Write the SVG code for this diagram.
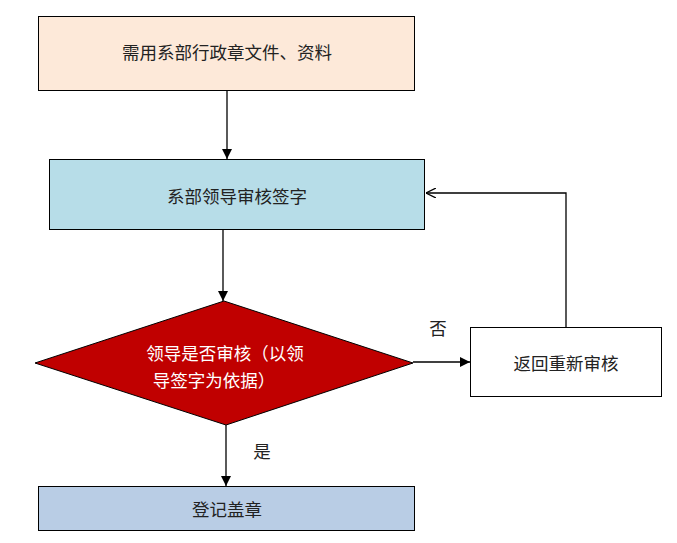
<svg xmlns="http://www.w3.org/2000/svg" width="677" height="543" viewBox="0 0 677 543">
<style>
text{font-family:"Noto Sans CJK SC","Noto Sans",sans-serif;font-size:17.5px;text-anchor:middle;dominant-baseline:central;fill:#222}
.box{stroke:#000;stroke-width:1}
.ln{fill:none;stroke:#000;stroke-width:1.3}
.w{fill:#fff}
</style>
<defs>
<marker id="fa" viewBox="0 0 10 10" refX="10" refY="5" markerWidth="10" markerHeight="10" markerUnits="userSpaceOnUse" orient="auto">
<path d="M0,0 L10,5 L0,10 Z" fill="#000"/>
</marker>
<marker id="oa" viewBox="0 0 10 10" refX="10" refY="5" markerWidth="10" markerHeight="10" markerUnits="userSpaceOnUse" orient="auto">
<path d="M0,0 L10,5 L0,10" fill="none" stroke="#000" stroke-width="1.3"/>
</marker>
</defs>
<rect width="677" height="543" fill="#fff"/>
<g id="connectors">
<line class="ln" x1="227" y1="90" x2="227" y2="159" marker-end="url(#fa)"/>
<line class="ln" x1="223" y1="229" x2="223" y2="301" marker-end="url(#fa)"/>
<line class="ln" x1="413" y1="362" x2="470" y2="362" marker-end="url(#fa)"/>
<polyline class="ln" points="566,330 566,193 426,193" marker-end="url(#oa)"/>
<line class="ln" x1="226" y1="425" x2="226" y2="486" marker-end="url(#fa)"/>
<text x="438" y="327">否</text>
<text x="262" y="450">是</text>
</g>
<g id="n1">
<rect class="box" x="38.5" y="16.5" width="376" height="74" fill="#fde9d9"/>
<text x="227" y="51">需用系部行政章文件、资料</text>
</g>
<g id="n2">
<rect class="box" x="49.5" y="159.5" width="375" height="70" fill="#b7dde8"/>
<text x="237" y="195">系部领导审核签字</text>
</g>
<g id="n3">
<polygon class="box" points="35,363 224,301 413,363 226,425" fill="#c00000"/>
<text class="w" x="225" y="352" style="fill:#fff">领导是否审核（以领</text>
<text class="w" x="214" y="379" style="fill:#fff">导签字为依据）</text>
</g>
<g id="n4">
<rect class="box" x="470.5" y="327.5" width="191" height="69" fill="#fff"/>
<text x="566" y="362">返回重新审核</text>
</g>
<g id="n5">
<rect class="box" x="38.5" y="486.5" width="376" height="44" fill="#b9cde5"/>
<text x="227" y="508">登记盖章</text>
</g>
</svg>
